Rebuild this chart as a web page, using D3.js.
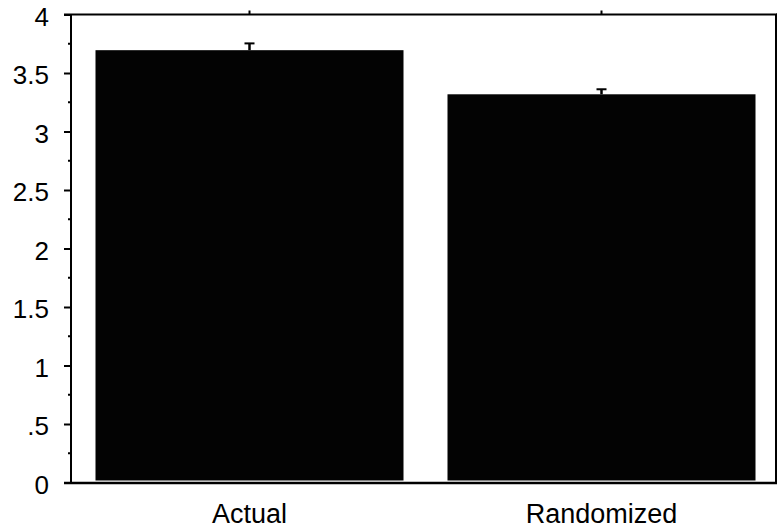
<!DOCTYPE html>
<html>
<head>
<meta charset="utf-8">
<script src="https://cdn.jsdelivr.net/npm/d3@7"></script>
<style>
  html, body { margin: 0; padding: 0; background: #fff; }
  svg { display: block; }
  text { font-family: "Liberation Sans", Arial, sans-serif; fill: #000; }
</style>
</head>
<body>
<svg id="chart" width="777" height="531"></svg>
<script>
const categories = ["Actual", "Randomized"];
const values = [3.695, 3.318];
const errors = [0.058, 0.043];
const yTicks = [0, 0.5, 1, 1.5, 2, 2.5, 3, 3.5, 4];
const yTickLabels = ["0", ".5", "1", "1.5", "2", "2.5", "3", "3.5", "4"];
const yMinorTicks = [0.25, 0.75, 1.25, 1.75, 2.25, 2.75, 3.25, 3.75];

(function () {
const svg = d3.select("#chart");
const mLeft = 72, mRight = 776, mTop = 14.5, mBottom = 482.5;

const x = d3.scaleBand().domain(categories).range([mLeft + 1.5, mRight + 1.5])
  .paddingInner(0.125).paddingOuter(0.0625);
const y = d3.scaleLinear().domain([0, 4]).range([mBottom, mTop]);

// bars
svg.append("g").selectAll("rect").data(categories).join("rect")
  .attr("x", d => x(d))
  .attr("width", x.bandwidth())
  .attr("y", (d, i) => y(values[i]))
  .attr("height", (d, i) => y(0) - 2 - y(values[i]))
  .attr("fill", "#030303");

// error bars
const eb = svg.append("g").attr("stroke", "#000").attr("stroke-width", 2.5);
categories.forEach((c, i) => {
  const cx = x(c) + x.bandwidth() / 2;
  eb.append("line").attr("x1", cx).attr("x2", cx)
    .attr("y1", y(values[i])).attr("y2", y(values[i] + errors[i]));
  eb.append("line").attr("x1", cx - 5).attr("x2", cx + 5)
    .attr("y1", y(values[i] + errors[i])).attr("y2", y(values[i] + errors[i]))
    .attr("stroke-width", 2);
});

// left axis
const gy = svg.append("g").attr("transform", `translate(${mLeft},0)`)
  .call(d3.axisLeft(y).tickValues(yTicks).tickSize(8).tickPadding(15)
    .tickFormat((d, i) => yTickLabels[i]));
gy.select(".domain").remove();
gy.selectAll(".tick line").attr("stroke", "#000").attr("stroke-width", 2);
gy.selectAll(".tick text").attr("font-size", 26).attr("dy", "0.42em")
  .attr("font-family", "Liberation Sans, Arial, sans-serif");

// minor ticks
svg.append("g").selectAll("line").data(yMinorTicks).join("line")
  .attr("x1", mLeft - 4).attr("x2", mLeft)
  .attr("y1", d => y(d)).attr("y2", d => y(d))
  .attr("stroke", "#000").attr("stroke-width", 2);

// right axis ticks (outward)
svg.append("g").selectAll("line").data(yTicks.concat(yMinorTicks)).join("line")
  .attr("x1", mRight).attr("x2", mRight + 4)
  .attr("y1", d => y(d)).attr("y2", d => y(d))
  .attr("stroke", "#000").attr("stroke-width", 2);

// top ticks
svg.append("g").selectAll("line").data(categories).join("line")
  .attr("x1", d => x(d) + x.bandwidth() / 2).attr("x2", d => x(d) + x.bandwidth() / 2)
  .attr("y1", mTop).attr("y2", mTop - 4)
  .attr("stroke", "#000").attr("stroke-width", 2);

// frame
const frame = svg.append("g").attr("stroke", "#000").attr("fill", "none");
frame.append("line").attr("x1", mLeft - 1).attr("x2", mLeft - 1).attr("y1", mTop).attr("y2", mBottom + 1).attr("stroke-width", 2);
frame.append("line").attr("x1", mLeft - 8).attr("x2", mRight + 1).attr("y1", mTop).attr("y2", mTop).attr("stroke-width", 2);
frame.append("line").attr("x1", mLeft - 8).attr("x2", mRight + 1).attr("y1", mBottom + 0.5).attr("y2", mBottom + 0.5).attr("stroke-width", 2.5);
frame.append("line").attr("x1", mRight).attr("x2", mRight).attr("y1", mTop).attr("y2", mBottom + 1).attr("stroke-width", 2);

// bottom axis labels
const gx = svg.append("g").attr("transform", `translate(0,${mBottom})`)
  .call(d3.axisBottom(x).tickSize(0).tickPadding(0));
gx.select(".domain").remove();
gx.selectAll(".tick text").attr("font-size", 27).attr("dy", null).attr("y", 40)
  .attr("font-family", "Liberation Sans, Arial, sans-serif");
})();
</script>
</body>
</html>
